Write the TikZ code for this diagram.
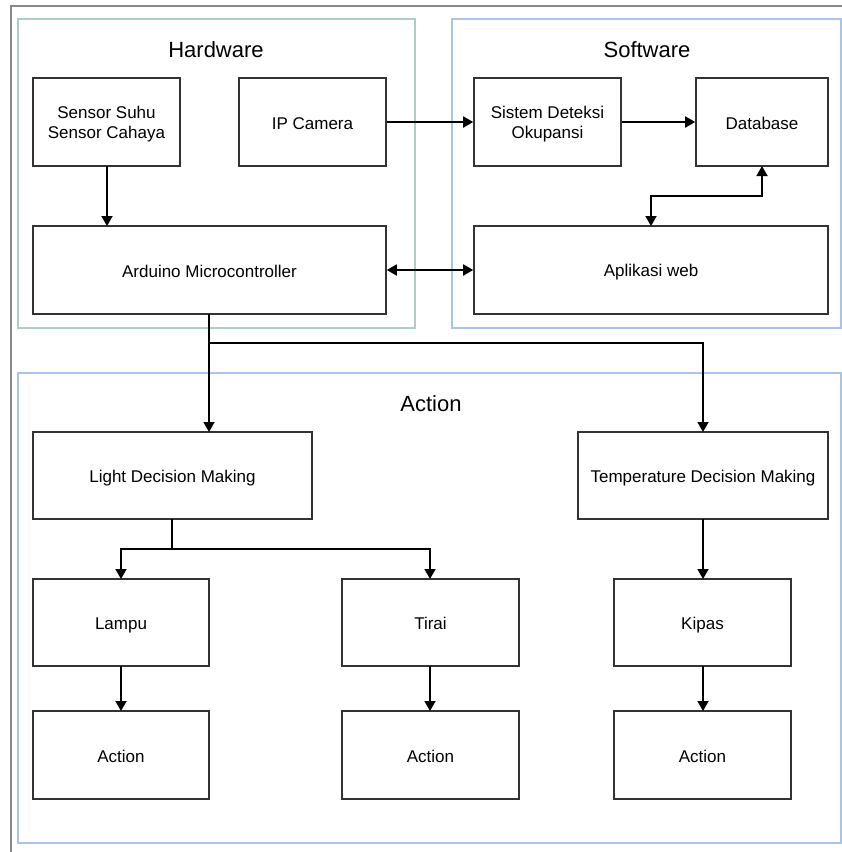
\documentclass[tikz,border=0pt]{standalone}
\usepackage{fontspec}
\setmainfont{Liberation Sans}
\usetikzlibrary{arrows.meta}
\definecolor{hwc}{HTML}{A9CFC6}
\definecolor{swc}{HTML}{A9C4EB}
\definecolor{boxc}{HTML}{333333}
\definecolor{framec}{HTML}{888888}
\tikzset{
  box/.style={draw=boxc, line width=1.6pt, fill=white, inner sep=0pt, align=center, font=\fontsize{17}{20}\selectfont},
  grp/.style={line width=1.5pt},
  ttl/.style={font=\fontsize{22}{26}\selectfont, inner sep=0pt},
  arr/.style={line width=1.8pt, -{Triangle[length=10pt,width=11pt]}},
  darr/.style={line width=1.8pt, {Triangle[length=10pt,width=11pt]}-{Triangle[length=10pt,width=11pt]}},
  ln/.style={line width=1.8pt}
}
\newcommand{\vstr}{\rule[-3pt]{0pt}{20pt}}
\newcommand{\bx}[6]{\node[box, minimum width={#4-#2}, minimum height={#5-#3}] (#1) at ({(#2+#4)/2},{(#3+#5)/2}) {\vstr #6\vstr};}
\begin{document}
\begin{tikzpicture}[x=1pt,y=-1pt]
\useasboundingbox (0,0) rectangle (842,852);
\fill[white] (0,0) rectangle (842,852);
% outer frame
\draw[framec, line width=1.5pt] (11,852) -- (11,6) -- (842,6);
% containers
\draw[grp, draw=hwc] (18,19) rectangle (415,328);
\draw[grp, draw=swc] (452,19) rectangle (841,328);
\draw[grp, draw=swc] (18,373) rectangle (841,843);
\node[ttl] (thw) at (216,50) {Hardware};
\node[ttl] (tsw) at (647,50) {Software};
\node[ttl] (tac) at (431,404) {Action};
% boxes
\bx{sens}{33}{78}{180}{166}{Sensor Suhu\\Sensor Cahaya}
\bx{cam}{239}{78}{386}{166}{IP Camera}
\bx{sis}{474}{78}{621}{166}{Sistem Deteksi\\Okupansi}
\bx{db}{696}{78}{828}{166}{Database}
\bx{ard}{33}{226}{386}{314}{Arduino Microcontroller}
\bx{app}{474}{226}{828}{314}{Aplikasi web}
\bx{ldm}{33}{432}{312}{519}{Light Decision Making}
\bx{tdm}{578}{432}{828}{519}{Temperature Decision Making}
\bx{lam}{33}{579}{209}{666}{Lampu}
\bx{tir}{342}{579}{519}{666}{Tirai}
\bx{kip}{614}{579}{791}{666}{Kipas}
\bx{act1}{33}{711}{209}{799}{Action}
\bx{act2}{342}{711}{519}{799}{Action}
\bx{act3}{614}{711}{791}{799}{Action}
% connectors
\draw[arr] (107,166) coordinate (sensb) -- (107,226) coordinate (ardt);
\draw[arr] (cam.east) -- (sis.west);
\draw[arr] (sis.east) -- (db.west);
\draw[darr] (ard.east) -- (app.west);
\coordinate (dbb) at (762,166);
\coordinate (appt) at (651,226);
\draw[darr] (dbb) -- (762,196) -- (651,196) -- (appt);
\coordinate (ardb) at (209,314);
\coordinate (ldmt) at (209,432);
\coordinate (tdmt) at (703,432);
\draw[arr] (ardb) -- (ldmt);
\draw[arr] (209,343) -- (703,343) -- (tdmt);
\coordinate (ldmb) at (172,519);
\coordinate (lamt) at (121,579);
\coordinate (tirt) at (430,579);
\draw[ln] (ldmb) -- (172,549);
\draw[arr] (172,549) -- (121,549) -- (lamt);
\draw[arr] (172,549) -- (430,549) -- (tirt);
\coordinate (tdmb) at (703,519);
\coordinate (kipt) at (703,579);
\draw[arr] (tdmb) -- (kipt);
\coordinate (lamb) at (121,666);
\coordinate (a1t) at (121,711);
\coordinate (tirb) at (430,666);
\coordinate (a2t) at (430,711);
\coordinate (kipb) at (703,666);
\coordinate (a3t) at (703,711);
\draw[arr] (lamb) -- (a1t);
\draw[arr] (tirb) -- (a2t);
\draw[arr] (kipb) -- (a3t);
\end{tikzpicture}
\end{document}
